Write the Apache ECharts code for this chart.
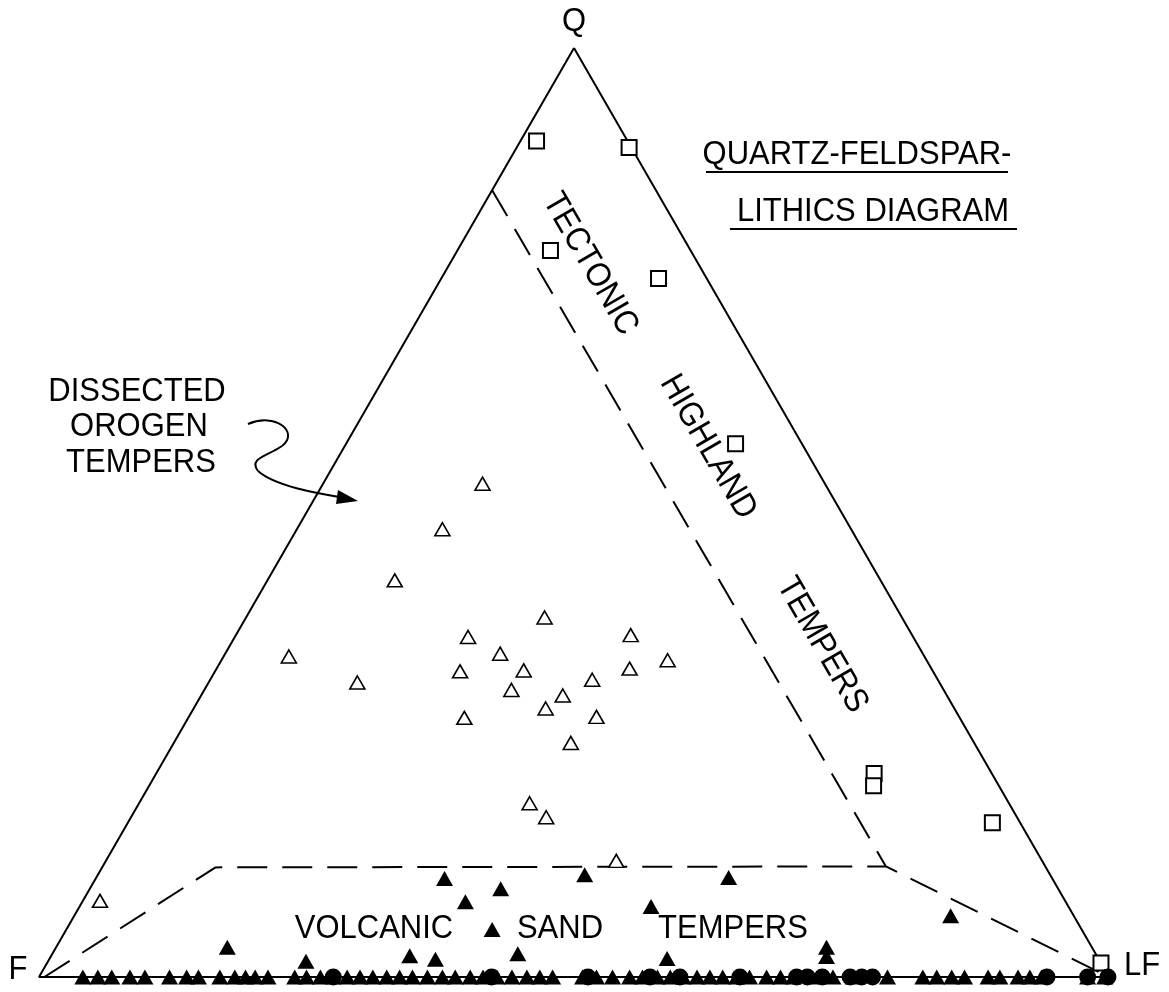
<!DOCTYPE html>
<html><head><meta charset="utf-8">
<script src="https://cdn.jsdelivr.net/npm/echarts@6/dist/echarts.min.js"></script>
<style>html,body{margin:0;padding:0;background:#fff}#c{width:1169px;height:992px}</style>
</head><body><div id="c"></div>
<script>
// Ternary compositions as [Q, L] in percent (F = 100 - Q - L)
const tectonicHighland = [[90,1.5],[89.3,10.5],[78.2,8.7],[75.2,20.3],[57.4,36.4],[21.9,67.1],[20.6,67.7],[16.6,80.8],[1.5,98.5]];
const dissectedOrogen = [[53.1,14.9],[48.2,13.6],[42.7,11.9],[38.7,27.9],[36.6,21.8],[36.8,36.9],[34.5,6.1],[34.8,25.7],[34.1,41.7],[32.9,22.9],[33.0,28.8],[33.2,38.6],[31.7,13.9],[32.0,35.7],[30.9,28.7],[30.3,33.8],[28.9,32.9],[27.9,25.8],[28.0,38.1],[25.2,37.1],[18.7,36.5],[17.2,38.8],[12.5,47.7],[8.2,1.6]];
const volcanicSand = [[10.6,32.6],[11.0,45.5],[10.7,59.1],[9.5,38.4],[8.1,35.8],[7.6,53.4],[5.1,39.8],[6.6,81.9],[3.2,16.0],[2.3,33.5],[1.9,36.1],[2.5,43.5],[1.7,24.1],[2.0,57.7],[3.2,72.0],[2.2,72.5]];
// samples with Q = 0 : L percent only
const volcanicSandQ0 = [4.1,5.5,6.8,8.5,9.9,12.2,13.8,14.9,16.9,18.3,19.3,20.2,21.4,23.9,25.0,26.3,27.5,28.8,30.0,31.2,32.5,33.7,34.9,36.3,37.7,38.9,40.3,41.5,42.8,44.2,45.6,46.8,48.0,50.8,52.1,53.6,55.2,56.4,57.8,59.0,60.2,61.5,62.7,63.9,65.2,66.4,68.0,69.3,70.5,72.8,74.2,76.1,79.3,82.6,83.9,85.3,86.5,88.7,89.8,91.5,92.6,93.7,98.0,99.6];
const circleQ0 = [27.5,42.3,51.3,57.1,59.9,65.5,70.8,71.8,73.2,75.8,76.9,77.9,94.2,98.0,99.9];
// field boundaries [Q, L]
const outline = [[100,0],[0,0],[0,100],[100,0]];
const tectonicBoundary = [[84.7,0],[11.9,73.2],[0,100]];
const volcanicBoundary = [[0,0.5],[11.8,10.6],[11.9,73.2]];

function xy(p){ return [p[1] + p[0]/2, p[0]]; }
const FONT = 'Liberation Sans, Arial, sans-serif';
const FS = 31;

const chart = echarts.init(document.getElementById('c'));
function txt(text, x, y, size, rot){
  return {type:'text', x:x, y:y, rotation: rot||0, scaleY:1.1, z:10,
    style:{text:text, font: size+'px '+FONT, fill:'#000', textAlign:'center', textVerticalAlign:'middle'}};
}
function bez(a){
  return {type:'bezierCurve', shape:{x1:a[0],y1:a[1],cpx1:a[2],cpy1:a[3],cpx2:a[4],cpy2:a[5],x2:a[6],y2:a[7]}, style:{stroke:'#000', lineWidth:2, fill:null}};
}
const R = -Math.PI/3;
chart.setOption({
  animation:false,
  backgroundColor:'#fff',
  grid:{left:39, right:60, top:48, bottom:15},
  xAxis:{type:'value', min:0, max:100, show:false},
  yAxis:{type:'value', min:0, max:100, show:false},
  series:[
    {type:'line', data: outline.map(xy), symbol:'none', silent:true, lineStyle:{color:'#000', width:2}, z:1},
    {type:'line', data: tectonicBoundary.map(xy), symbol:'none', silent:true, lineStyle:{color:'#000', width:2, type:[30,15]}, z:1},
    {type:'line', data: volcanicBoundary.map(xy), symbol:'none', silent:true, lineStyle:{color:'#000', width:2, type:[30,15]}, z:1},
    {type:'scatter', data: tectonicHighland.map(xy), symbol:'rect', symbolSize:15, itemStyle:{color:'#fff', borderColor:'#000', borderWidth:2, opacity:1}, z:3},
    {type:'scatter', data: dissectedOrogen.map(xy), symbol:'triangle', symbolSize:[15,13], itemStyle:{color:'#fff', borderColor:'#000', borderWidth:1.6, opacity:1}, z:3},
    {type:'scatter', data: circleQ0.map(l => xy([0,l])), symbol:'circle', symbolSize:17, itemStyle:{color:'#000', opacity:1}, z:3},
    {type:'scatter', data: volcanicSand.map(xy).concat(volcanicSandQ0.map(l => xy([0,l]))), symbol:'triangle', symbolSize:[17,15], itemStyle:{color:'#000', opacity:1}, z:4}
  ],
  graphic:[
    txt('Q', 574, 22, FS),
    txt('F', 18, 970, FS),
    txt('LF', 1142, 966, FS),
    txt('QUARTZ-FELDSPAR-', 857, 155, FS),
    txt('LITHICS DIAGRAM', 873, 212, FS),
    {type:'line', shape:{x1:706, y1:172, x2:1008, y2:172}, style:{stroke:'#000', lineWidth:2}},
    {type:'line', shape:{x1:730, y1:229, x2:1017, y2:229}, style:{stroke:'#000', lineWidth:2}},
    txt('TECTONIC', 590, 264, FS, R),
    txt('HIGHLAND', 708, 447, FS, R),
    txt('TEMPERS', 822, 645, FS, R),
    txt('DISSECTED', 137, 392, FS),
    txt('OROGEN', 139, 427, FS),
    txt('TEMPERS', 141, 463, FS),
    txt('VOLCANIC', 374, 929, FS),
    txt('SAND', 560, 929, FS),
    txt('TEMPERS', 733, 929, FS),
    bez([248,424, 275,412, 300,432, 282,446]),
    bez([282,446, 268,456, 248,458, 258,471]),
    bez([258,471, 275,486, 315,493, 345,498]),
    {type:'polygon', shape:{points:[[358,501],[338,490],[336,504]]}, style:{fill:'#000'}}
  ]
});
</script></body></html>
